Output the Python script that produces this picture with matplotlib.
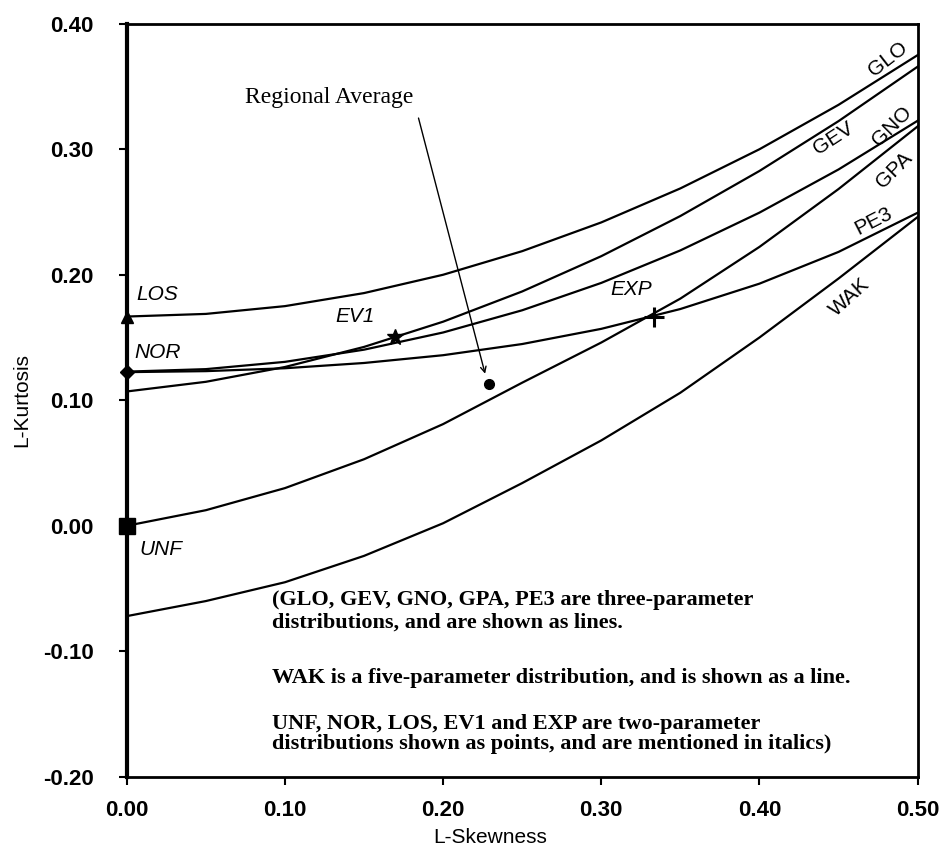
import matplotlib
matplotlib.use("Agg")
import matplotlib.pyplot as plt
import numpy as np

# ---- data ----
t3 = [0.00, 0.05, 0.10, 0.15, 0.20, 0.25, 0.30, 0.35, 0.40, 0.45, 0.50]
glo = [0.1667, 0.1688, 0.1750, 0.1854, 0.2000, 0.2188, 0.2417, 0.2688, 0.3000, 0.3354, 0.3750]
gev = [0.1070, 0.1147, 0.1265, 0.1425, 0.1626, 0.1867, 0.2148, 0.2468, 0.2827, 0.3224, 0.3658]
gno = [0.1228, 0.1248, 0.1306, 0.1403, 0.1540, 0.1717, 0.1935, 0.2194, 0.2495, 0.2839, 0.3227]
gpa = [0.0000, 0.0124, 0.0300, 0.0530, 0.0810, 0.1140, 0.1460, 0.1810, 0.2222, 0.2683, 0.3182]
pe3 = [0.1224, 0.1232, 0.1255, 0.1297, 0.1359, 0.1448, 0.1569, 0.1727, 0.1929, 0.2182, 0.2494]
wak = [-0.072, -0.060, -0.045, -0.024, 0.002, 0.034, 0.068, 0.106, 0.150, 0.197, 0.246]

curve_names = ["GLO", "GEV", "GNO", "GPA", "PE3", "WAK"]

point_names = ["LOS", "NOR", "UNF", "EV1", "EXP"]
point_x = [0.0, 0.0, 0.0, 0.1699, 0.3333]
point_y = [0.1667, 0.1226, 0.0, 0.1504, 0.1667]

regional_x = 0.229
regional_y = 0.113

xticks = [0.0, 0.1, 0.2, 0.3, 0.4, 0.5]
yticks = [-0.2, -0.1, 0.0, 0.1, 0.2, 0.3, 0.4]

note_lines = [
    "(GLO, GEV, GNO, GPA, PE3 are three-parameter",
    "distributions, and are shown as lines.",
    "WAK is a five-parameter distribution, and is shown as a line.",
    "UNF, NOR, LOS, EV1 and EXP are two-parameter",
    "distributions shown as points, and are mentioned in italics)",
]

# ---- figure ----
fig = plt.figure(figsize=(9.46, 8.48), dpi=100)
ax = fig.add_axes([0.134, 0.084, 0.836, 0.888])

sans = ["Liberation Sans", "DejaVu Sans"]
serif = ["Liberation Serif", "DejaVu Serif"]

for ys in [glo, gev, gno, gpa, pe3, wak]:
    ax.plot(t3, ys, color="black", lw=1.6)

markers = {"LOS": ("^", 8), "NOR": ("D", 7), "UNF": ("s", 11), "EV1": ("*", 12), "EXP": ("+", 14)}
for n, x, y in zip(point_names, point_x, point_y):
    m, s = markers[n]
    ax.plot([x], [y], marker=m, ms=s, color="black", mew=2.2 if m == "+" else 1, clip_on=False, zorder=5)

ax.plot([regional_x], [regional_y], "o", ms=7, color="black", zorder=5)
ax.annotate("", xy=(regional_x - 0.002, regional_y + 0.006), xytext=(0.184, 0.327),
            arrowprops=dict(arrowstyle="->", color="black", lw=1.0))
ax.text(0.128, 0.341, "Regional Average", family=serif, fontsize=17, ha="center", va="center")

# point labels (italic)
plab = {"LOS": (0.006, 0.184), "NOR": (0.005, 0.138), "UNF": (0.008, -0.019),
        "EV1": (0.132, 0.167), "EXP": (0.306, 0.188)}
for n, (x, y) in plab.items():
    ax.text(x, y, n, family=sans, style="italic", fontsize=15, ha="left", va="center")

# curve labels (rotated)
clab = {"GLO": (0.481, 0.372, 38), "GEV": (0.447, 0.309, 33), "GNO": (0.484, 0.318, 45),
        "GPA": (0.485, 0.283, 45), "PE3": (0.472, 0.243, 27), "WAK": (0.457, 0.182, 42)}
for n, (x, y, r) in clab.items():
    ax.text(x, y, n, family=sans, fontsize=15, ha="center", va="center", rotation=r)

# notes
note_y = [-0.059, -0.077, -0.121, -0.158, -0.174]
for s, y in zip(note_lines, note_y):
    ax.text(0.0917, y, s, family=serif, fontweight="bold", fontsize=16, ha="left", va="center")

ax.set_xlim(0, 0.5)
ax.set_ylim(-0.2, 0.4)
ax.set_xticks(xticks)
ax.set_yticks(yticks)
ax.set_xticklabels([f"{v:.2f}" for v in xticks], family=sans, fontweight="bold", fontsize=16)
ax.set_yticklabels([f"{v:.2f}" for v in yticks], family=sans, fontweight="bold", fontsize=16)
ax.tick_params(direction="out", length=6, width=1.5)
ax.tick_params(axis="x", pad=11)
ax.tick_params(axis="y", pad=18)
for s in ["top", "right", "bottom"]:
    ax.spines[s].set_linewidth(2)
ax.spines["left"].set_linewidth(3)

ax.set_xlabel("L-Skewness", family=sans, fontsize=15, labelpad=4)
ax.xaxis.set_label_coords(0.46, -0.068)
ax.set_ylabel("L-Kurtosis", family=sans, fontsize=15, labelpad=8)

fig.savefig("out.png", dpi=100)
